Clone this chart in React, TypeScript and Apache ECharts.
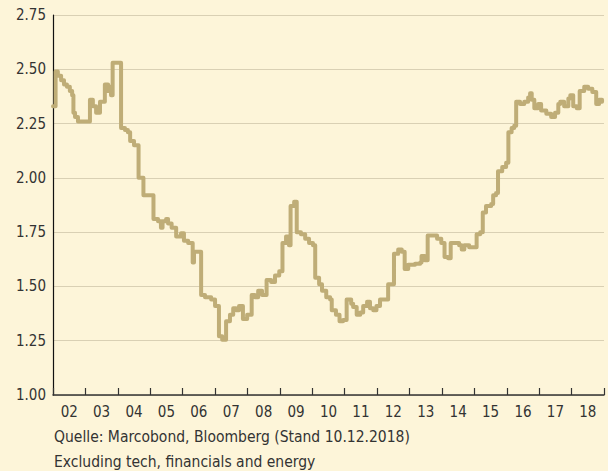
import React, { useEffect, useRef } from "react";
import * as echarts from "echarts";

const yearLabels = ["02","03","04","05","06","07","08","09","10","11","12","13","14","15","16","17","18"];

const dates = [
  2002.00, 2002.08, 2002.15, 2002.25, 2002.34, 2002.43, 2002.52, 2002.59, 2002.63, 2002.68, 2002.77,
  2003.14, 2003.23, 2003.33, 2003.45, 2003.60, 2003.70, 2003.76, 2003.79, 2003.84,
  2004.10, 2004.22, 2004.31, 2004.38, 2004.50, 2004.64, 2004.79,
  2005.10, 2005.24, 2005.33, 2005.38, 2005.49, 2005.55, 2005.66, 2005.80, 2005.95,
  2006.04, 2006.17, 2006.31, 2006.35, 2006.57, 2006.69, 2006.88,
  2007.00, 2007.12, 2007.22, 2007.34, 2007.46, 2007.56, 2007.65, 2007.74, 2007.86, 2007.99,
  2008.13, 2008.23, 2008.33, 2008.45, 2008.59, 2008.73, 2008.85, 2008.98,
  2009.08, 2009.19, 2009.28, 2009.33, 2009.44, 2009.52, 2009.65, 2009.78, 2009.90,
  2010.02, 2010.09, 2010.21, 2010.30, 2010.43, 2010.55, 2010.60, 2010.73, 2010.84, 2010.95,
  2011.06, 2011.20, 2011.26, 2011.37, 2011.48, 2011.57, 2011.69, 2011.78, 2011.88, 2011.98,
  2012.09, 2012.34, 2012.52, 2012.65, 2012.76, 2012.85, 2012.96,
  2013.17, 2013.33, 2013.37, 2013.47, 2013.56, 2013.85, 2013.98,
  2014.08, 2014.19, 2014.27, 2014.53, 2014.61, 2014.69, 2014.84,
  2015.07, 2015.18, 2015.26, 2015.36, 2015.52, 2015.58, 2015.67, 2015.73, 2015.86, 2015.98,
  2016.05, 2016.15, 2016.23, 2016.29, 2016.41, 2016.54, 2016.66, 2016.72, 2016.77, 2016.85, 2016.97,
  2017.06, 2017.22, 2017.37, 2017.49, 2017.59, 2017.65, 2017.77, 2017.90, 2017.96,
  2018.05, 2018.16, 2018.25, 2018.39, 2018.51, 2018.64, 2018.76, 2018.85, 2018.94,
];

const values = [
  2.33, 2.49, 2.47, 2.45, 2.43, 2.42, 2.40, 2.38, 2.30, 2.28, 2.26,
  2.36, 2.33, 2.30, 2.35, 2.43, 2.40, 2.42, 2.38, 2.53,
  2.23, 2.22, 2.21, 2.17, 2.15, 2.00, 1.92,
  1.81, 1.80, 1.77, 1.80, 1.81, 1.79, 1.77, 1.73, 1.745,
  1.71, 1.70, 1.61, 1.66, 1.46, 1.45, 1.44,
  1.41, 1.27, 1.255, 1.34, 1.37, 1.40, 1.39, 1.41, 1.35, 1.37,
  1.46, 1.45, 1.48, 1.46, 1.53, 1.52, 1.55, 1.57,
  1.70, 1.73, 1.69, 1.87, 1.89, 1.75, 1.74, 1.72, 1.70,
  1.69, 1.54, 1.51, 1.48, 1.45, 1.44, 1.39, 1.37, 1.34, 1.345,
  1.44, 1.42, 1.405, 1.37, 1.38, 1.41, 1.43, 1.40, 1.39, 1.41,
  1.44, 1.51, 1.65, 1.67, 1.66, 1.58, 1.60,
  1.605, 1.61, 1.64, 1.62, 1.735, 1.72, 1.70,
  1.635, 1.63, 1.70, 1.69, 1.67, 1.69, 1.68,
  1.74, 1.75, 1.84, 1.87, 1.88, 1.92, 1.93, 2.03, 2.05, 2.07,
  2.21, 2.23, 2.24, 2.35, 2.34, 2.35, 2.37, 2.39, 2.36, 2.32, 2.34,
  2.31, 2.295, 2.28, 2.30, 2.34, 2.35, 2.33, 2.365, 2.38,
  2.33, 2.32, 2.40, 2.42, 2.41, 2.395, 2.34, 2.36, 2.35,
];

const sourceLines = [
  "Quelle: Marcobond, Bloomberg (Stand 10.12.2018)",
  "Excluding tech, financials and energy",
];

const FONT = "'Liberation Sans Narrow', 'DejaVu Sans Condensed', 'Roboto', sans-serif";

export default function App() {
  const ref = useRef<HTMLDivElement>(null);
  useEffect(() => {
    if (!ref.current) return;
    const chart = echarts.init(ref.current, undefined, { renderer: "svg" });
    const seriesData = dates.map((d, i) => [d, values[i]]);
    chart.setOption({
      animation: false,
      backgroundColor: "#fdf5d9",
      textStyle: { fontFamily: FONT },
      grid: { left: 53, right: 4, top: 15, bottom: 76, containLabel: false },
      xAxis: [
        {
          type: "value",
          min: 2002,
          max: 2019,
          interval: 1,
          position: "bottom",
          axisLine: { show: true, onZero: false, lineStyle: { color: "#333", width: 1.5 } },
          axisTick: { show: true, inside: true, length: 7, lineStyle: { color: "#333", width: 1.2 } },
          axisLabel: { show: false },
          splitLine: { show: false },
        },
        {
          type: "category",
          data: yearLabels,
          boundaryGap: true,
          position: "bottom",
          axisLine: { show: false },
          axisTick: { show: false },
          axisLabel: { show: true, color: "#333", fontSize: 15, fontFamily: FONT, margin: 9 },
          splitLine: { show: false },
        },
      ],
      yAxis: {
        type: "value",
        min: 1,
        max: 2.75,
        interval: 0.25,
        axisLine: { show: true, lineStyle: { color: "#111", width: 1.2 } },
        axisTick: { show: false },
        axisLabel: {
          color: "#333",
          fontSize: 15,
          fontFamily: FONT,
          margin: 7,
          formatter: (v: number) => v.toFixed(2),
        },
        splitLine: { show: true, lineStyle: { color: "#d9d0b4", width: 1 } },
      },
      series: [
        {
          type: "line",
          xAxisIndex: 0,
          data: seriesData,
          step: "end",
          showSymbol: false,
          symbol: "none",
          lineStyle: { color: "#bfad77", width: 4, join: "round", cap: "round" },
        },
      ],
      graphic: [
        {
          type: "text",
          left: 54,
          top: 429,
          style: { text: sourceLines[0], fill: "#333", font: `15.5px ${FONT}` },
        },
        {
          type: "text",
          left: 54,
          top: 454,
          style: { text: sourceLines[1], fill: "#333", font: `15.5px ${FONT}` },
        },
      ],
    });
    return () => chart.dispose();
  }, []);
  return (
    <div
      ref={ref}
      style={{ position: "fixed", left: 0, top: 0, width: 608, height: 471 }}
    />
  );
}
